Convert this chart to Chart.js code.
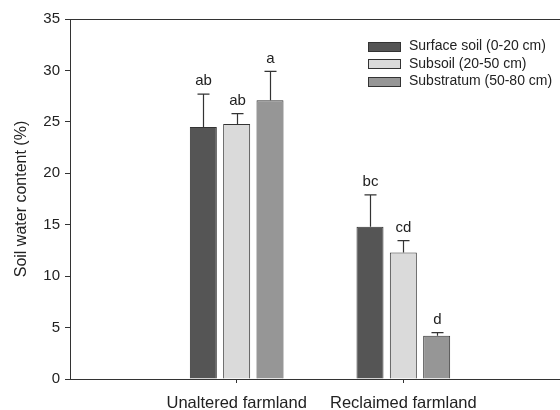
<!DOCTYPE html>
<html>
<head>
<meta charset="utf-8">
<script src="https://cdn.jsdelivr.net/npm/chart.js@4/dist/chart.umd.min.js"></script>
<style>
  html, body { margin: 0; padding: 0; background: #fff; overflow: hidden; }
  #wrap { width: 580px; height: 410px; position: relative; }
</style>
</head>
<body>
<div id="wrap"><canvas id="c"></canvas></div>
<script>
// Farmland types on the x axis
const categories = ['Unaltered farmland', 'Reclaimed farmland'];

// Soil layers (series)
const layers = ['Surface soil (0-20 cm)', 'Subsoil (20-50 cm)', 'Substratum (50-80 cm)'];

// Mean soil water content (%) per layer, one value per farmland type
const surfaceMean = [24.5, 14.8];
const subsoilMean = [24.8, 12.3];
const substratumMean = [27.1, 4.2];

// Standard deviations (upper error bars)
const surfaceErr = [3.2, 3.1];
const subsoilErr = [1.0, 1.15];
const substratumErr = [2.8, 0.3];

// Significance letters
const surfaceLetters = ['ab', 'bc'];
const subsoilLetters = ['ab', 'cd'];
const substratumLetters = ['a', 'd'];

// Y axis tick values
const yTicks = [0, 5, 10, 15, 20, 25, 30, 35];

const FONT = '"Liberation Sans", Arial, Helvetica, sans-serif';
const INK = '#222';
const EDGE = '#333';

const series = [
  { mean: surfaceMean, err: surfaceErr, letters: surfaceLetters, fill: '#555555' },
  { mean: subsoilMean, err: subsoilErr, letters: subsoilLetters, fill: '#dadada' },
  { mean: substratumMean, err: substratumErr, letters: substratumLetters, fill: '#969696' }
];

const datasets = series.map((s, k) => ({
  label: layers[k],
  data: s.mean.map((v, i) => ({ x: i, y: v })),
  err: s.err,
  letters: s.letters,
  backgroundColor: s.fill,
  borderColor: EDGE,
  borderWidth: 1,
  barPercentage: 0.81,
  categoryPercentage: 0.6
}));

// Upper error bars and letters above each bar
const errorBars = {
  id: 'errorBars',
  afterDatasetsDraw(chart) {
    const ctx = chart.ctx;
    const y = chart.scales.y;
    ctx.save();
    chart.data.datasets.forEach((ds, di) => {
      const meta = chart.getDatasetMeta(di);
      meta.data.forEach((bar, i) => {
        const v = ds.data[i].y;
        const top = y.getPixelForValue(v + ds.err[i]);
        const base = y.getPixelForValue(v);
        const x = Math.round(bar.x) + 0.5;
        ctx.strokeStyle = EDGE;
        ctx.lineWidth = 1.2;
        ctx.beginPath();
        ctx.moveTo(x, base);
        ctx.lineTo(x, top);
        ctx.moveTo(x - 6, top);
        ctx.lineTo(x + 6, top);
        ctx.stroke();
        ctx.fillStyle = INK;
        ctx.font = '15px ' + FONT;
        ctx.textAlign = 'center';
        ctx.textBaseline = 'middle';
        ctx.fillText(ds.letters[i], x, top - 13);
      });
    });
    ctx.restore();
  }
};

// Top frame line and legend box inside the plot
const frameAndLegend = {
  id: 'frameAndLegend',
  afterDraw(chart) {
    const ctx = chart.ctx;
    const a = chart.chartArea;
    ctx.save();
    ctx.strokeStyle = EDGE;
    ctx.lineWidth = 1;
    ctx.beginPath();
    ctx.moveTo(a.left, Math.round(a.top) + 0.5);
    ctx.lineTo(a.right, Math.round(a.top) + 0.5);
    ctx.stroke();

    const bx = 368.5, bw = 32, bh = 9, tx = 409;
    chart.data.datasets.forEach((ds, k) => {
      const cy = 46 + k * 17.5;
      ctx.fillStyle = ds.backgroundColor;
      ctx.fillRect(bx, Math.round(cy - bh / 2) + 0.5, bw, bh);
      ctx.strokeStyle = EDGE;
      ctx.strokeRect(bx, Math.round(cy - bh / 2) + 0.5, bw, bh);
      ctx.fillStyle = INK;
      ctx.font = '14px ' + FONT;
      ctx.textAlign = 'left';
      ctx.textBaseline = 'middle';
      ctx.fillText(ds.label, tx, cy + 0.5);
    });
    ctx.restore();
  }
};

new Chart(document.getElementById('c'), {
  type: 'bar',
  data: { datasets },
  plugins: [errorBars, frameAndLegend],
  options: {
    responsive: true,
    maintainAspectRatio: false,
    animation: false,
    layout: { padding: { left: 0, top: 19, right: 10, bottom: 0 } },
    plugins: { legend: { display: false }, tooltip: { enabled: false } },
    scales: {
      x: {
        type: 'linear',
        min: -1,
        max: 2,
        offset: false,
        afterBuildTicks(scale) {
          scale.ticks = categories.map((c, i) => ({ value: i }));
        },
        afterFit(scale) { scale.height = 31; },
        grid: { offset: false, drawOnChartArea: false, drawTicks: true, tickLength: 4, color: EDGE, lineWidth: 1 },
        border: { display: true, color: EDGE, width: 1 },
        ticks: {
          autoSkip: false,
          maxRotation: 0,
          padding: 11,
          color: INK,
          font: { family: FONT, size: 16.5 },
          callback: (v) => categories[v]
        }
      },
      y: {
        min: 0,
        max: 35,
        afterBuildTicks(scale) {
          scale.ticks = yTicks.map(v => ({ value: v }));
        },
        afterFit(scale) { scale.width = 70; },
        grid: { drawOnChartArea: false, drawTicks: true, tickLength: 5, color: EDGE, lineWidth: 1 },
        border: { display: true, color: EDGE, width: 1 },
        ticks: {
          padding: 5,
          color: INK,
          font: { family: FONT, size: 15 }
        },
        title: {
          display: true,
          text: 'Soil water content (%)',
          color: INK,
          font: { family: FONT, size: 16 },
          padding: { top: 12, bottom: 0 }
        }
      }
    }
  }
});
</script>
</body>
</html>
